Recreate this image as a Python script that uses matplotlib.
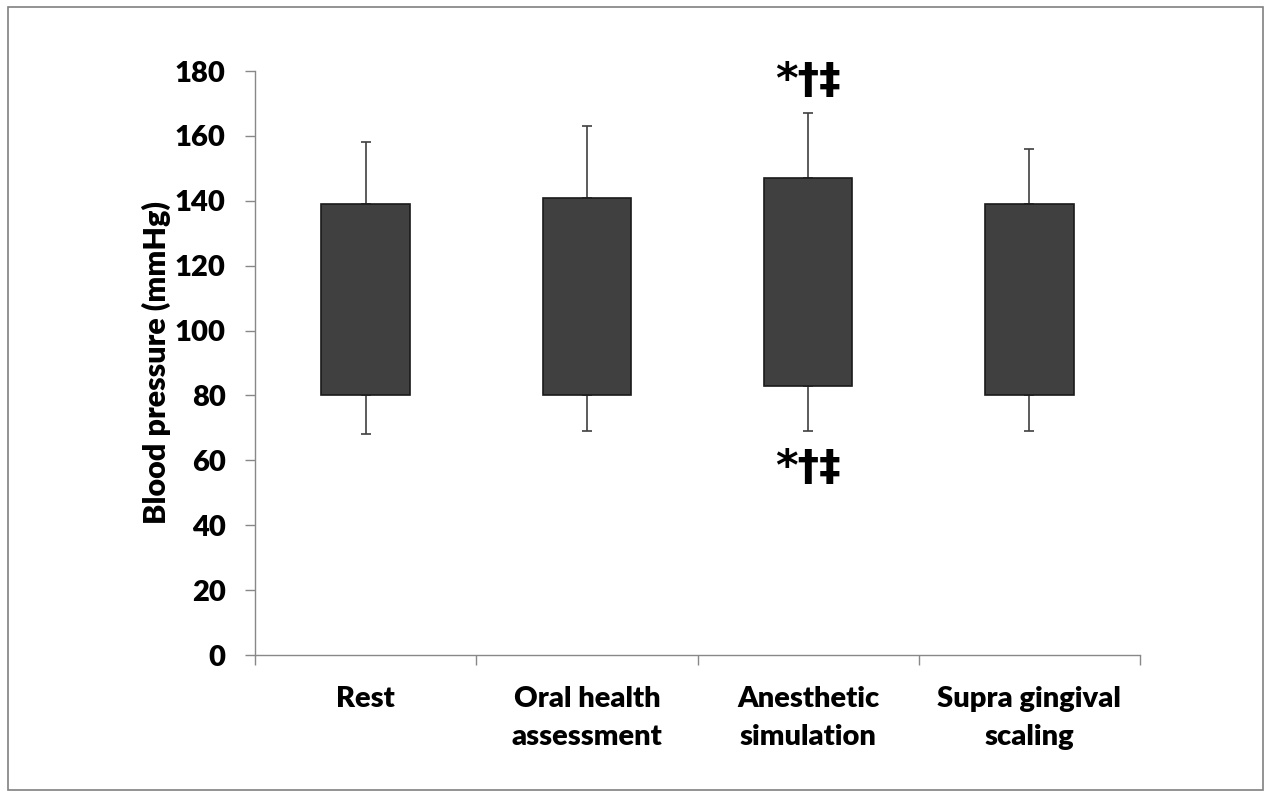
import matplotlib
matplotlib.use("Agg")
import matplotlib.pyplot as plt
from matplotlib.patches import Rectangle
import numpy as np

categories = ["Rest", "Oral health\nassessment", "Anesthetic\nsimulation", "Supra gingival\nscaling"]
diastolic = [80, 80, 83, 80]
systolic = [139, 141, 147, 139]
systolic_upper = [158, 163, 167, 156]
diastolic_lower = [68, 69, 69, 69]
sig_marks = ["", "", "*†‡", ""]
yticks = [0, 20, 40, 60, 80, 100, 120, 140, 160, 180]

W = 'heavy'
plt.rcParams['font.family'] = ['Lato', 'DejaVu Sans']
plt.rcParams['font.weight'] = W

fig = plt.figure(figsize=(12.69, 7.97), dpi=100)
ax = fig.add_axes([255/1269, 1-655/797, (1140-255)/1269, (655-71)/797])

x = np.arange(len(categories))
dia = np.array(diastolic)
sys_ = np.array(systolic)
up = np.array(systolic_upper)
lo = np.array(diastolic_lower)

ax.errorbar(x, sys_, yerr=[np.zeros_like(sys_), up - sys_], fmt='none',
            ecolor='#404040', elinewidth=1.2, capsize=3.5, capthick=1.2, zorder=1)
ax.errorbar(x, dia, yerr=[dia - lo, np.zeros_like(dia)], fmt='none',
            ecolor='#404040', elinewidth=1.2, capsize=3.5, capthick=1.2, zorder=1)
ax.bar(x, sys_ - dia, bottom=dia, width=0.40, color='#404040',
       edgecolor='#1a1a1a', linewidth=1.2, zorder=2)

for xi, m in zip(x, sig_marks):
    if m:
        ax.text(xi, 177, m, ha='center', va='center', fontsize=31,
                fontweight='bold', family=['DejaVu Sans'])
        ax.text(xi, 57.5, m, ha='center', va='center', fontsize=31,
                fontweight='bold', family=['DejaVu Sans'])

ax.set_ylim(0, 180)
ax.set_xlim(-0.5, len(categories) - 0.5)
ax.set_yticks(yticks)
ax.set_yticklabels([str(v) for v in yticks], fontsize=21, fontweight=W)
ax.set_xticks(x)
ax.set_xticklabels(categories, fontsize=21, fontweight=W, linespacing=1.6)
ax.set_xticks(np.arange(-0.5, len(categories)), minor=True)
ax.tick_params(axis='x', which='major', length=0, pad=22)
ax.tick_params(axis='x', which='minor', length=7.2, color='#888888', width=1)
ax.tick_params(axis='y', length=7.2, color='#888888', width=1, pad=14)

for s in ['top', 'right']:
    ax.spines[s].set_visible(False)
for s in ['left', 'bottom']:
    ax.spines[s].set_color('#888888')
    ax.spines[s].set_linewidth(1)

ax.set_ylabel("Blood pressure (mmHg)", fontsize=22, fontweight=W, va='center')
ax.yaxis.set_label_coords(-(255-156)/885, 0.5)

fig.patches.append(Rectangle((8/1269, 1-790/797), (1263-8)/1269, (790-7)/797,
                             transform=fig.transFigure, fill=False,
                             edgecolor='#808080', linewidth=1.2))

fig.savefig("out.png", dpi=100)
